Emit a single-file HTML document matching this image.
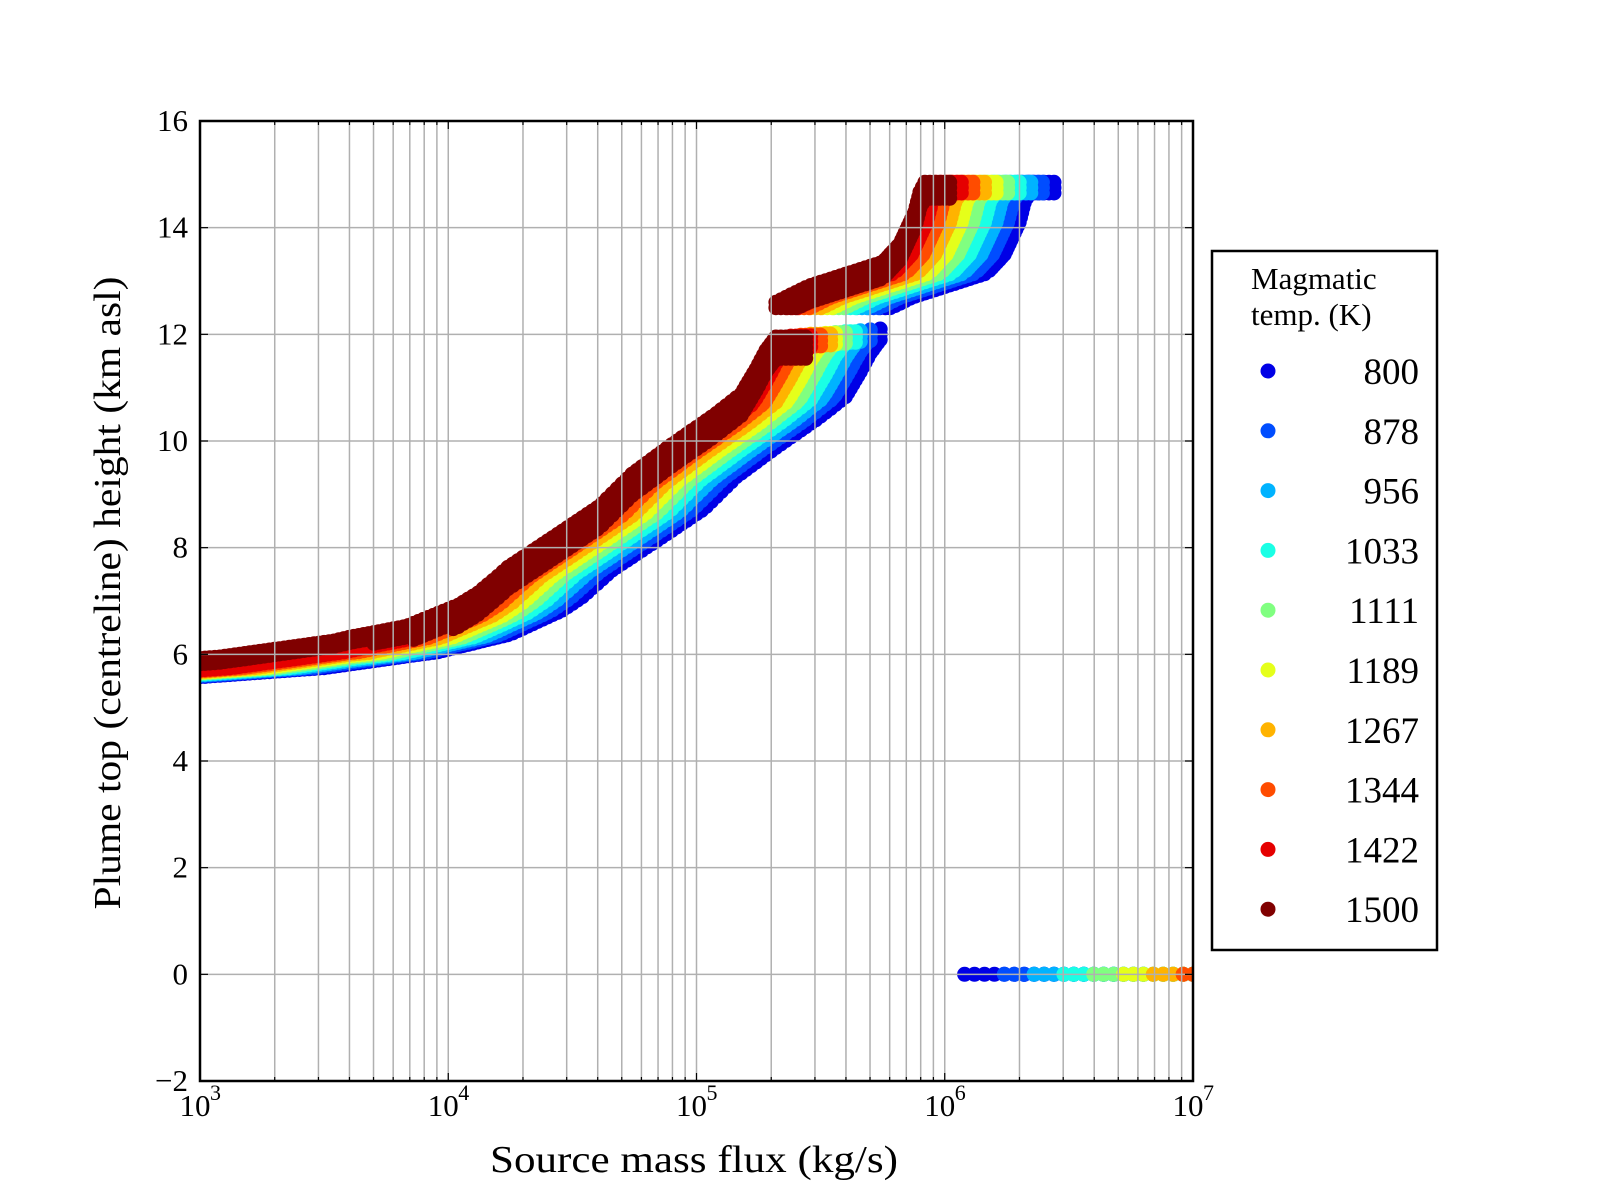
<!DOCTYPE html>
<html><head><meta charset="utf-8"><style>
html,body{margin:0;padding:0;background:#fff;}
svg{display:block;font-family:"Liberation Serif",serif;}
</style></head><body>
<svg id="s" width="1600" height="1200" xmlns="http://www.w3.org/2000/svg">
<rect width="1600" height="1200" fill="#fff"/>
<g id="pts"></g>
<g id="grid" stroke="#b0b0b0" stroke-width="1.5"></g>
<g id="ticks" stroke="#000" stroke-width="1.2"></g>
<rect x="200" y="121" width="993" height="960" fill="none" stroke="#000" stroke-width="2.5"/>
<g id="lbl" font-size="31" fill="#000"></g>
<text x="694" y="1172" font-size="38" text-anchor="middle" textLength="408" lengthAdjust="spacingAndGlyphs">Source mass flux (kg/s)</text>
<text transform="translate(120,593) rotate(-90)" font-size="38" text-anchor="middle" textLength="633" lengthAdjust="spacingAndGlyphs">Plume top (centreline) height (km asl)</text>
<rect x="1212" y="251" width="225" height="699" fill="#fff" stroke="#000" stroke-width="2.5"/>
<text x="1251" y="289" font-size="31">Magmatic</text>
<text x="1251" y="325" font-size="31">temp. (K)</text>
<g id="leg" font-size="37" text-anchor="end"></g>
</svg>
<script>
const NS="http://www.w3.org/2000/svg";
const X0=200,W=993,Y0=121,H=960;
const px=L=>X0+(L-3)/4*W, py=v=>Y0+(16-v)/18*H;
function el(t,a,p){const e=document.createElementNS(NS,t);for(const k in a)e.setAttribute(k,a[k]);document.getElementById(p).appendChild(e);return e;}
function jet(x){
 const cl=v=>Math.max(0,Math.min(1,v));
 const r=cl(Math.min(4*x-1.5,-4*x+4.5)),g=cl(Math.min(4*x-0.5,-4*x+3.5)),b=cl(Math.min(4*x+0.5,-4*x+2.5));
 return `rgb(${Math.round(r*255)},${Math.round(g*255)},${Math.round(b*255)})`;}
const lowP=[[2.5,5.68],[3.0,5.78],[3.5,5.95],[3.96,6.25],[4.25,6.58],[4.46,7.03],[4.54,7.28],[4.66,7.78],[4.87,8.43],[5.03,8.93],[5.16,9.53],[5.32,10.08],[5.49,10.63],[5.6,11.03],[5.66,11.5],[5.70,11.85],[5.74,12.1],[7,12.1]];
const upP=[[5.74,12.6],[5.87,12.9],[6.17,13.35],[6.24,13.7],[6.27,14.0],[6.30,14.3],[6.33,14.85],[7,14.85]];
function interp(P,L){if(L<=P[0][0])return P[0][1];for(let i=1;i<P.length;i++){if(L<=P[i][0]){const a=P[i-1],b=P[i];return a[1]+(b[1]-a[1])*(L-a[0])/(b[0]-a[0]);}}return P[P.length-1][1];}
const R=7.5;
function dots(pts,col){let d="";for(const [x,y] of pts){d+=`M${(x-R).toFixed(1)},${y.toFixed(1)}a${R},${R} 0 1,0 ${2*R},0a${R},${R} 0 1,0 ${-2*R},0`;}el("path",{d:d,fill:col},"pts");}
for(let k=0;k<10;k++){
 const t=k/9,col=jet((k+1)/10),s=0.42*t;
 const pts=[];
 const lEnd=5.74-0.3*t;
 let prev=null;
 const rowsAt=L=>{ if(k<9) return [0,0.1,0.2]; const th=L<3.6?0.15:Math.min(0.45,0.15+(L-3.6)*0.6); const r=[];for(let d=0;d<=th+1e-6;d+=0.1)r.push(d);return r;};
 for(let L=3.0;L<=lEnd+1e-9;L+=0.02){
  const ramp=Math.max(0,Math.min(1,(L-3.6)/0.6));
  let v=interp(lowP,L+s)-0.15*ramp*t; if(v>12.1)v=12.1;
  const cur=[px(L),py(v)];
  const rows=rowsAt(L);
  if(prev){const dy=Math.abs(cur[1]-prev[1]);const n=Math.ceil(dy/5);for(let j=1;j<n;j++)for(const r of rows)pts.push([prev[0]+(cur[0]-prev[0])*j/n,prev[1]+(cur[1]-prev[1])*j/n+r*H/18]);}
  for(const r of rows)pts.push([cur[0],cur[1]+r*H/18]);
  prev=cur;
 }
 const rowsU=k<9?[0,0.1,0.2]:[0,0.1,0.2,0.3];
 const uS=5.74-s,uE=6.44-s; prev=null;
 for(let L=uS;L<=uE+1e-9;L+=0.02){
  const v=interp(upP,L+s);
  const cur=[px(L),py(v)];
  if(prev){const dy=Math.abs(cur[1]-prev[1]);const n=Math.ceil(dy/5);for(let j=1;j<n;j++)for(const r of rowsU)pts.push([prev[0]+(cur[0]-prev[0])*j/n,prev[1]+(cur[1]-prev[1])*j/n+r*H/18]);}
  for(const r of rowsU)pts.push([cur[0],Math.min(cur[1]+r*H/18,py(12.5))]);
  prev=cur;
 }
 const z0=k==0?6.08:6.24+0.12*(k-1);
 for(let L=z0;L<=7.001;L+=0.04)pts.push([px(L),py(0)]);
 dots(pts,col);
}
document.getElementById("pts").setAttribute("clip-path","url(#c)");
const cp=document.createElementNS(NS,"clipPath");cp.id="c";const cr=document.createElementNS(NS,"rect");
cr.setAttribute("x",X0);cr.setAttribute("y",Y0);cr.setAttribute("width",W);cr.setAttribute("height",H);cp.appendChild(cr);document.getElementById("s").appendChild(cp);
for(let d=3;d<7;d++)for(let m=1;m<10;m++){
 const x=px(d+Math.log10(m));
 if(!(d==3&&m==1))el("line",{x1:x,y1:Y0,x2:x,y2:Y0+H},"grid");
 const len=m==1?8:4;
 el("line",{x1:x,y1:Y0+H,x2:x,y2:Y0+H-len},"ticks");
 el("line",{x1:x,y1:Y0,x2:x,y2:Y0+len},"ticks");
}
for(let v=-2;v<=16;v+=2){
 const y=py(v);
 if(v>-2&&v<16)el("line",{x1:X0,y1:y,x2:X0+W,y2:y},"grid");
 el("line",{x1:X0,y1:y,x2:X0+8,y2:y},"ticks");
 el("line",{x1:X0+W,y1:y,x2:X0+W-8,y2:y},"ticks");
 const t=el("text",{x:188,y:y+10,"text-anchor":"end"},"lbl");t.textContent=v<0?"\u2212"+(-v):String(v);
}
for(let d=3;d<=7;d++){
 const x=px(d);
 const t=el("text",{x:x-5,y:1116,"text-anchor":"middle"},"lbl");t.textContent="10";
 const s=el("text",{x:x+10,y:1100,"font-size":"22"},"lbl");s.textContent=String(d);
}
const temps=[800,878,956,1033,1111,1189,1267,1344,1422,1500];
temps.forEach((T,i)=>{const y=371+i*59.8;
 el("circle",{cx:1268,cy:y,r:7.5,fill:jet((i+1)/10)},"leg");
 const t=el("text",{x:1419,y:y+13},"leg");t.textContent=String(T);});
</script>
</body></html>
